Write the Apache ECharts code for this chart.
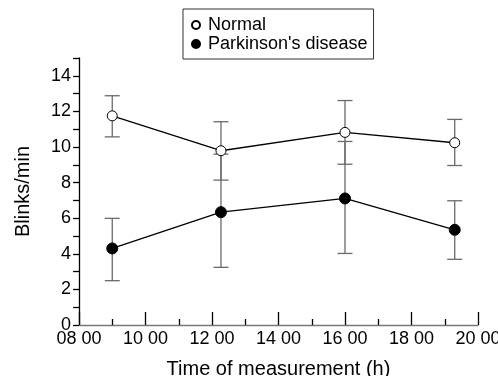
<!DOCTYPE html>
<html>
<head>
<meta charset="utf-8">
<script src="https://cdn.jsdelivr.net/npm/echarts@6/dist/echarts.min.js"></script>
<style>
  html, body { margin: 0; padding: 0; background: #fff; }
  #chart { width: 498px; height: 376px; }
</style>
</head>
<body>
<div id="chart"></div>
<script>
// measurement times (hours of the day)
const times = [9, 12.27, 16, 19.3]

// Normal subjects: mean and error bar ends
const normalMean = [11.75, 9.79, 10.82, 10.24]
const normalLow = [10.57, 8.14, 9.03, 8.96]
const normalHigh = [12.88, 11.42, 12.61, 11.55]

// Parkinson's disease
const pdMean = [4.3, 6.34, 7.11, 5.35]
const pdLow = [2.49, 3.24, 4.02, 3.69]
const pdHigh = [5.99, 9.6, 10.31, 6.98]

const xTicks = [8, 10, 12, 14, 16, 18, 20]

const FONT = "Liberation Sans, Arial, sans-serif"

const chart = echarts.init(document.getElementById("chart"), null, { renderer: "canvas" })

function errorData(low, high) {
  return times.map((t, i) => [t, low[i], high[i]])
}

// vertical whisker with caps, drawn through the axis scales
function renderError(params, api) {
  const x = api.value(0)
  const lo = api.coord([x, api.value(1)])
  const hi = api.coord([x, api.value(2)])
  const w = 7.5
  const style = { stroke: "#6a6a6a", lineWidth: 1.3 }
  return {
    type: "group",
    children: [
      { type: "line", shape: { x1: lo[0], y1: lo[1], x2: hi[0], y2: hi[1] }, style },
      { type: "line", shape: { x1: lo[0] - w, y1: lo[1], x2: lo[0] + w, y2: lo[1] }, style },
      { type: "line", shape: { x1: hi[0] - w, y1: hi[1], x2: hi[0] + w, y2: hi[1] }, style },
    ],
  }
}

const option = {
  animation: false,
  textStyle: { fontFamily: FONT, color: "#000" },
  grid: { left: 79, right: 20, top: 58, bottom: 51, outerBoundsMode: "none", containLabel: false },
  legend: {
    orient: "vertical",
    left: 183,
    top: 9,
    padding: [7, 6, 6, 8],
    borderColor: "#333",
    borderWidth: 1,
    itemWidth: 8,
    itemHeight: 8,
    itemGap: 1,
    icon: "circle",
    textStyle: { fontFamily: FONT, fontSize: 18, color: "#000", padding: [0, 0, 0, 3] },
    data: ["Normal", "Parkinson's disease"],
  },
  xAxis: {
    type: "value",
    min: 8,
    max: 20,
    interval: 2,
    name: "Time of measurement (h)",
    nameLocation: "middle",
    nameGap: 34,
    nameTextStyle: { fontFamily: FONT, fontSize: 20, color: "#000" },
    axisLine: { lineStyle: { color: "#777", width: 1.3 } },
    axisTick: { inside: true, length: 13, lineStyle: { color: "#000", width: 1.3 } },
    minorTick: { show: true, splitNumber: 2, length: 6, lineStyle: { color: "#000", width: 1.3 } },
    splitLine: { show: false },
    axisLabel: {
      margin: 5,
      fontFamily: FONT,
      fontSize: 18,
      color: "#000",
      formatter: (v) => (xTicks.includes(v) ? String(v).padStart(2, "0") + " 00" : ""),
    },
  },
  yAxis: {
    type: "value",
    min: 0,
    max: 15,
    interval: 1,
    name: "Blinks/min",
    nameLocation: "middle",
    nameGap: 46,
    nameTextStyle: { fontFamily: FONT, fontSize: 20, color: "#000" },
    axisLine: { show: true, lineStyle: { color: "#000", width: 1.3 } },
    axisTick: { length: 6, lineStyle: { color: "#000", width: 1.3 } },
    splitLine: { show: false },
    axisLabel: {
      margin: 8,
      fontFamily: FONT,
      fontSize: 18,
      color: "#000",
      formatter: (v) => (v % 2 === 0 && v <= 14 ? String(v) : ""),
    },
  },
  series: [
    {
      type: "custom",
      name: "normal-err",
      renderItem: renderError,
      data: errorData(normalLow, normalHigh),
      z: 1,
    },
    {
      type: "custom",
      name: "pd-err",
      renderItem: renderError,
      data: errorData(pdLow, pdHigh),
      z: 1,
    },
    {
      name: "Normal",
      type: "line",
      data: times.map((t, i) => [t, normalMean[i]]),
      symbol: "circle",
      symbolSize: 10,
      lineStyle: { color: "#000", width: 1.3 },
      itemStyle: { color: "#fff", borderColor: "#000", borderWidth: 1 },
      z: 3,
    },
    {
      name: "Parkinson's disease",
      type: "line",
      data: times.map((t, i) => [t, pdMean[i]]),
      symbol: "circle",
      symbolSize: 11,
      lineStyle: { color: "#000", width: 1.3 },
      itemStyle: { color: "#000", borderColor: "#000", borderWidth: 1 },
      z: 3,
    },
  ],
}

chart.setOption(option)
</script>
</body>
</html>
